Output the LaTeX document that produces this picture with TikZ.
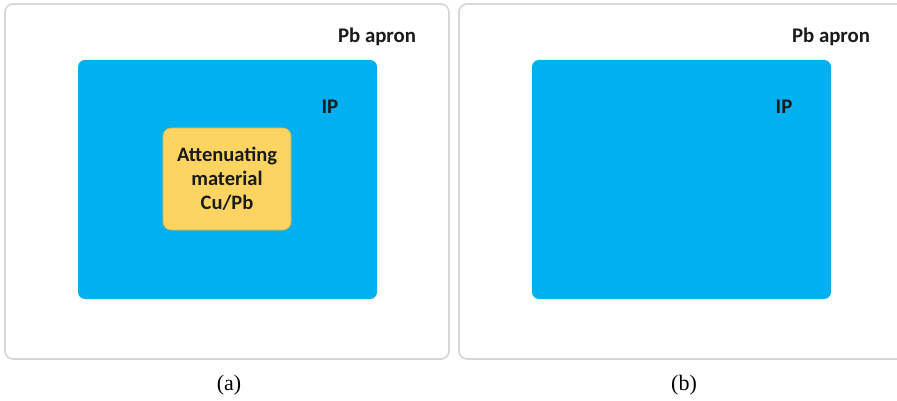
\documentclass[tikz,border=0pt]{standalone}
\usepackage{fontspec}
\setmainfont{Liberation Serif}
\newfontfamily\calib{Carlito}
\definecolor{panelgray}{HTML}{D6D6D6}
\definecolor{ipblue}{HTML}{00B0F0}
\definecolor{attyellow}{HTML}{FDD462}
\definecolor{txtdark}{HTML}{1A1A1A}
\begin{document}
\begin{tikzpicture}[x=1pt,y=-1pt,
  panel/.style={draw=panelgray,line width=1.6pt,fill=white,rounded corners=8pt},
  ipbox/.style={fill=ipblue,rounded corners=7pt},
  attbox/.style={fill=attyellow,draw=attyellow!85!black,line width=0.6pt,rounded corners=8pt},
  lbl/.style={font=\calib\bfseries\fontsize{20.8}{24}\selectfont,text=txtdark,inner sep=0pt},
  captext/.style={font=\fontsize{22}{26}\selectfont,inner sep=0pt}]
\useasboundingbox (0,0) rectangle (897,401);
\begin{scope}
\clip (0,0) rectangle (897,401);
% panel (a)
\draw[panel] (5,4) rectangle (449,359);
\fill[ipbox] (78,60) rectangle (377,299);
\node[lbl] (apronA) at (377,37) {Pb apron};
\node[lbl] (ipA) at (330,107) {IP};
\node[attbox,minimum width=128pt,minimum height=102pt,inner sep=0pt] (att) at (227,179) {};
\node[lbl,align=center,font=\calib\bfseries\fontsize{20.5}{24}\selectfont] (attT) at (att.center) {Attenuating\\material\\Cu/Pb};
\node[captext] (capA) at (229,385) {(a)};
% panel (b)
\draw[panel] (459,4) rectangle (910,359);
\fill[ipbox] (532,60) rectangle (831,299);
\node[lbl] (apronB) at (831,37) {Pb apron};
\node[lbl] (ipB) at (784,107) {IP};
\node[captext] (capB) at (684,385) {(b)};
\end{scope}
\end{tikzpicture}
\end{document}
